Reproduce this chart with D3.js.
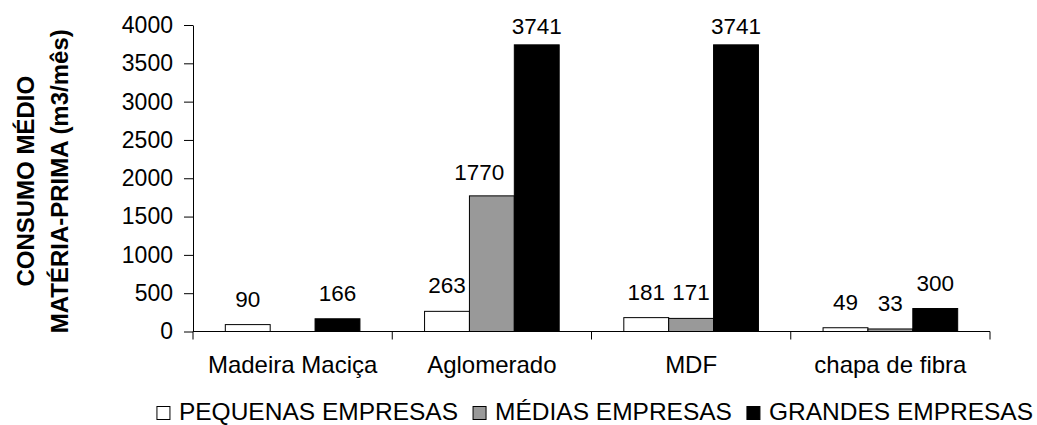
<!DOCTYPE html>
<html>
<head>
<meta charset="utf-8">
<script src="https://cdn.jsdelivr.net/npm/d3@7"></script>
<style>
  html, body { margin: 0; padding: 0; background: #fff; }
  svg { display: block; font-family: "Liberation Sans", Arial, sans-serif; }
</style>
</head>
<body>
<svg id="chart" width="1037" height="425"></svg>
<script>
const categories = ["Madeira Maciça", "Aglomerado", "MDF", "chapa de fibra"];
const seriesNames = ["PEQUENAS EMPRESAS", "MÉDIAS EMPRESAS", "GRANDES EMPRESAS"];
const pequenas = [90, 263, 181, 49];
const medias = [null, 1770, 171, 33];
const grandes = [166, 3741, 3741, 300];
const yTicks = [0, 500, 1000, 1500, 2000, 2500, 3000, 3500, 4000];
const titleLines = ["CONSUMO MÉDIO", "MATÉRIA-PRIMA (m3/mês)"];

(function () {
const seriesValues = [pequenas, medias, grandes];
const fills = ["#ffffff", "#999999", "#000000"];

const svg = d3.select("#chart");
const pLeft = 193, pRight = 990, pTop = 25, pBottom = 331.5;

const x0 = d3.scaleBand().domain(categories).range([pLeft, pRight]).padding(0);
const x1 = d3.scaleBand().domain(seriesNames).range([0, x0.bandwidth()])
  .paddingInner(0).paddingOuter(0.72);
const y = d3.scaleLinear().domain([0, 4000]).range([pBottom, pTop]);

// Bars
seriesNames.forEach((s, si) => {
  const data = categories.map((c, ci) => ({c, ci, v: seriesValues[si][ci]})).filter(d => d.v != null);
  svg.append("g").selectAll("rect").data(data).join("rect")
    .attr("x", d => x0(d.c) + x1(s))
    .attr("y", d => y(d.v))
    .attr("width", x1.bandwidth())
    .attr("height", d => y(0) - y(d.v))
    .attr("fill", fills[si])
    .attr("stroke", "#000")
    .attr("stroke-width", 1);
  const labels = svg.append("g").selectAll("text").data(data).join("text")
    .attr("x", d => x0(d.c) + x1(s) + x1.bandwidth() / 2)
    .attr("y", d => Math.max(y(d.v) - 18, 34))
    .attr("text-anchor", "middle")
    .attr("font-size", 22.5)
    .attr("fill", "#000")
    .text(d => d.v);
  // nudge a label that is wider than its bar away from a taller neighbour bar
  labels.each(function (d) {
    const w = this.getComputedTextLength();
    const next = si < seriesValues.length - 1 ? seriesValues[si + 1][d.ci] : null;
    if (w > x1.bandwidth() && next != null && next > d.v) {
      d3.select(this).attr("x", x0(d.c) + x1(s) + x1.bandwidth() / 2 - (w - x1.bandwidth()) / 2 - 10)
        .attr("y", Math.max(y(d.v) - 16, 34));
    }
  });
});

// Y axis
const yAxis = svg.append("g").attr("transform", `translate(${pLeft},0)`)
  .call(d3.axisLeft(y).tickValues(yTicks).tickSize(9).tickSizeOuter(0).tickPadding(11).tickFormat(d3.format("d")));
yAxis.selectAll("text").attr("font-size", 23).attr("fill", "#000").attr("font-family", "Liberation Sans, Arial, sans-serif");
yAxis.selectAll("line, path").attr("stroke", "#000");

// X axis
const boundaries = categories.map(c => x0(c)).concat([x0(categories[categories.length - 1]) + x0.bandwidth()]);
const xg = svg.append("g");
xg.append("line").attr("x1", pLeft).attr("x2", pRight).attr("y1", y(0)).attr("y2", y(0)).attr("stroke", "#000");
xg.selectAll("line.tick").data(boundaries).join("line").attr("class", "tick")
  .attr("x1", d => d).attr("x2", d => d)
  .attr("y1", y(0)).attr("y2", y(0) + 8).attr("stroke", "#000");
xg.selectAll("text").data(categories).join("text")
  .attr("x", d => x0(d) + x0.bandwidth() / 2)
  .attr("y", 373)
  .attr("text-anchor", "middle")
  .attr("font-size", 24)
  .attr("fill", "#000")
  .text(d => d);

// Y title
const cy = (pTop + pBottom) / 2 + 3;
const tg = svg.append("g");
[34, 68].forEach((bx, i) => {
  tg.append("text")
    .attr("transform", `translate(${bx},${cy}) rotate(-90)`)
    .attr("text-anchor", "middle")
    .attr("font-size", 24)
    .attr("font-weight", "bold")
    .attr("fill", "#000")
    .text(titleLines[i]);
});

// Legend
const legend = svg.append("g");
const fs = 24.5;
const items = [];
seriesNames.forEach((s, i) => {
  const t = legend.append("text").attr("font-size", fs).attr("fill", "#000").text(s);
  const w = t.node().getComputedTextLength();
  items.push({t, w, i});
});
const sq = 13, gapSq = 9, gapItem = 15;
const total = items.reduce((a, it) => a + sq + gapSq + it.w, 0) + gapItem * (items.length - 1);
let lx = 158 + ((1032 - 158) - total) / 2;
const ly = 419.5;
items.forEach(it => {
  legend.append("rect").attr("x", lx).attr("y", ly - sq).attr("width", sq).attr("height", sq)
    .attr("fill", fills[it.i]).attr("stroke", "#000").attr("stroke-width", 1);
  it.t.attr("x", lx + sq + gapSq).attr("y", ly);
  lx += sq + gapSq + it.w + gapItem;
});
})();
</script>
</body>
</html>
